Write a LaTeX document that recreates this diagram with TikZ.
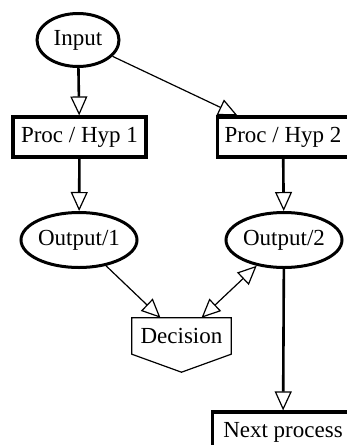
\documentclass[tikz,border=0pt]{standalone}
\usepackage{fontspec}
\setmainfont{Liberation Serif}
\usetikzlibrary{arrows.meta,shapes.geometric}
\begin{document}
\begin{tikzpicture}[x=1pt,y=-1pt,
  every node/.style={font=\fontsize{23}{27}\selectfont, inner sep=0pt},
  ellnode/.style={draw, ellipse, line width=3pt},
  boxnode/.style={draw, rectangle, line width=3.2pt, minimum height=40pt},
  opentip/.style={-{Triangle[open,length=19pt,width=17pt,line width=1.2pt]}},
  bothtip/.style={{Triangle[open,length=19pt,width=17pt,line width=1.2pt]}-{Triangle[open,length=19pt,width=17pt,line width=1.2pt]}},
  thickedge/.style={opentip, line width=2.6pt},
  thinedge/.style={opentip, line width=1.2pt}]
\useasboundingbox (0,0) rectangle (347,445);
\node[ellnode, minimum width=82pt, minimum height=53pt] (input) at (78,40) {Input};
\node[boxnode, minimum width=133pt] (proc1) at (79.5,137) {Proc / Hyp 1};
\node[boxnode, minimum width=131pt] (proc2) at (283,137) {Proc / Hyp 2};
\draw[thickedge] (input) -- (proc1);
\draw[thinedge] (input) -- (proc2);

\node[ellnode, minimum width=116pt, minimum height=55pt] (out1) at (79,240) {Output/1};
\node[ellnode, minimum width=116pt, minimum height=55pt] (out2) at (284,240) {Output/2};
\draw[thickedge] (proc1) -- (out1);
\draw[thickedge] (proc2) -- (out2);

% decision: box with a point below
\node[minimum width=99pt, minimum height=36pt] (dec) at (181.5,336) {Decision};
\draw[line width=1.2pt] (dec.north west) -- (dec.north east) -- (dec.south east)
  -- ([yshift=-18pt]dec.south) -- (dec.south west) -- cycle;
\coordinate (decin1) at ([xshift=-21pt]dec.north);
\coordinate (decin2) at ([xshift=20pt]dec.north);
\draw[thinedge] (out1) -- (decin1);
\draw[bothtip, line width=1.2pt] (out2) -- (decin2);

\node[boxnode, minimum width=141pt] (next) at (283,432) {Next process};
\draw[thickedge] (out2) -- (next);
\end{tikzpicture}
\end{document}
